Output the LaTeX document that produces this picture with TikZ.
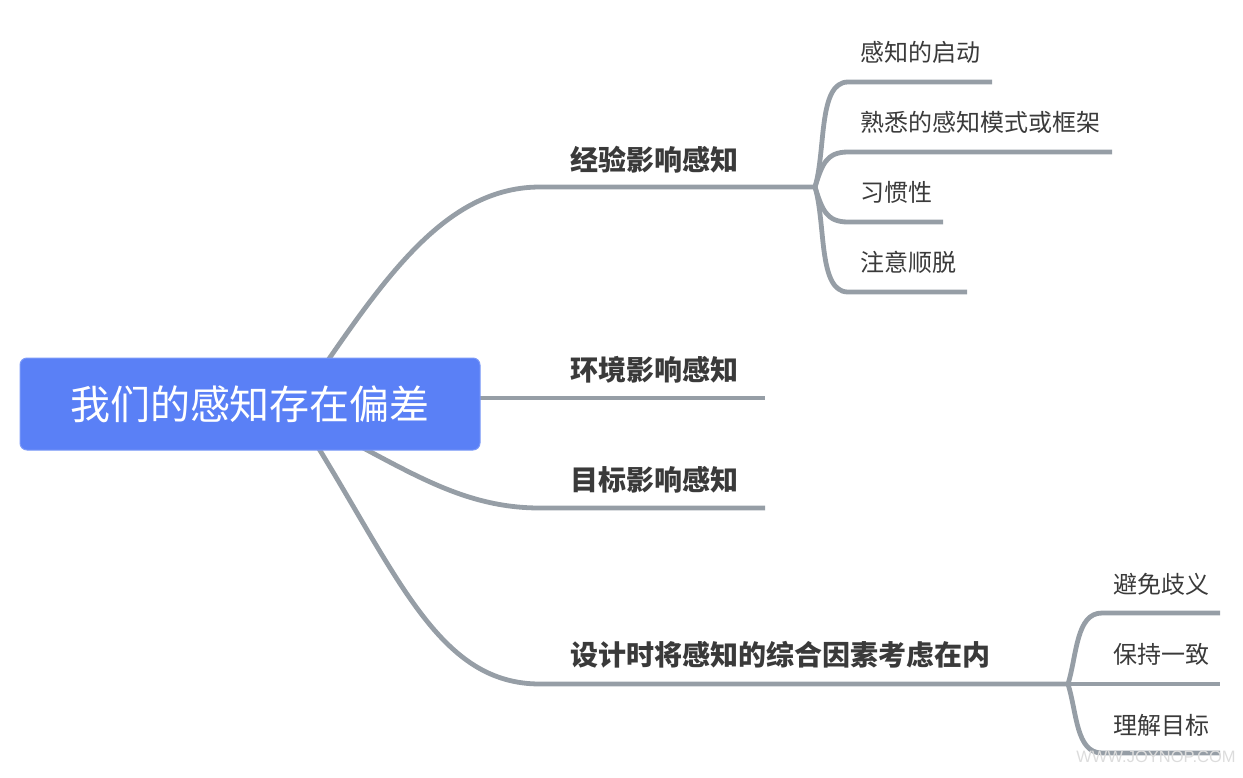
\documentclass[tikz,border=0pt]{standalone}
\usepackage{fontspec}
\setmainfont{Noto Sans CJK SC}
\newfontfamily\wmfont{Liberation Sans}
\usetikzlibrary{backgrounds}
\definecolor{rootblue}{HTML}{5A80F6}
\definecolor{branchgray}{HTML}{969EA6}
\definecolor{labeltext}{HTML}{3A3A3A}
\definecolor{wmgray}{HTML}{DCDCDC}
\tikzset{
  rootbox/.style={fill=rootblue, draw=rootblue!80!white, line width=1pt, rounded corners=7pt,
    text=white, font=\fontsize{40}{41}\selectfont, minimum width=460, minimum height=92, inner sep=0},
  mainlabel/.style={anchor=west, inner sep=0, text=labeltext, font=\fontsize{28}{29}\selectfont\bfseries},
  sublabel/.style={anchor=west, inner sep=0, text=labeltext, font=\fontsize{24}{25}\selectfont},
  branch/.style={draw=branchgray, line width=4.8pt},
}
\begin{document}
\begin{tikzpicture}[x=1pt,y=-1pt]
\useasboundingbox (0,0) rectangle (1243,777);

% root
\node[rootbox] (root) at (250,404) {我们的感知存在偏差};

% main labels
\node[mainlabel] (m1) at (570,160) {经验影响感知};
\node[mainlabel] (m2) at (570,370) {环境影响感知};
\node[mainlabel] (m3) at (570,480) {目标影响感知};
\node[mainlabel] (m4) at (570,655) {设计时将感知的综合因素考虑在内};

% sub labels of branch 1
\node[sublabel] (s1) at (860,52) {感知的启动};
\node[sublabel] (s2) at (860,122) {熟悉的感知模式或框架};
\node[sublabel] (s3) at (860,192) {习惯性};
\node[sublabel] (s4) at (860,262) {注意顺脱};

% sub labels of branch 4
\node[sublabel] (t1) at (1113,584) {避免歧义};
\node[sublabel] (t2) at (1113,654) {保持一致};
\node[sublabel] (t3) at (1113,725) {理解目标};

% watermark
\node[inner sep=0, text=wmgray, font=\wmfont\fontsize{16.5}{17}\selectfont] (wm) at (1156,757) {WWW.JOYNOP.COM};

% coordinates
\coordinate (r1) at (322,369);
\coordinate (r2) at (470,398);
\coordinate (r3) at (352,442);
\coordinate (r4) at (313,439);
\coordinate (k1) at (815,187);
\coordinate (e2) at (765,398);
\coordinate (e3) at (765,508);
\coordinate (k4) at (1068,684);
\coordinate (a1) at (992,82);
\coordinate (a2) at (1112,152);
\coordinate (a3) at (943,222);
\coordinate (a4) at (967,292);
\coordinate (b1) at (1220,613);
\coordinate (b2) at (1220,684);
\coordinate (b3) at (1220,753);

\begin{scope}[on background layer]
% main branches
\draw[branch] (r1) .. controls (390,270) and (450,187) .. (540,187) -- (k1);
\draw[branch] (r2) -- (e2);
\draw[branch] (r3) .. controls (420,478) and (470,508) .. (540,508) -- (e3);
\draw[branch] (r4) .. controls (400,580) and (440,684) .. (540,684) -- (k4);

% sub branches of branch 1
\draw[branch] (k1) .. controls (826,150) and (818,82) .. (848,82) -- (a1);
\draw[branch] (k1) .. controls (822,165) and (826,152) .. (848,152) -- (a2);
\draw[branch] (k1) .. controls (822,209) and (826,222) .. (848,222) -- (a3);
\draw[branch] (k1) .. controls (826,224) and (818,292) .. (848,292) -- (a4);

% sub branches of branch 4
\draw[branch] (k4) .. controls (1077,655) and (1076,613) .. (1102,613) -- (b1);
\draw[branch] (k4) -- (b2);
\draw[branch] (k4) .. controls (1077,713) and (1076,753) .. (1102,753) -- (b3);
\end{scope}
\end{tikzpicture}
\end{document}
